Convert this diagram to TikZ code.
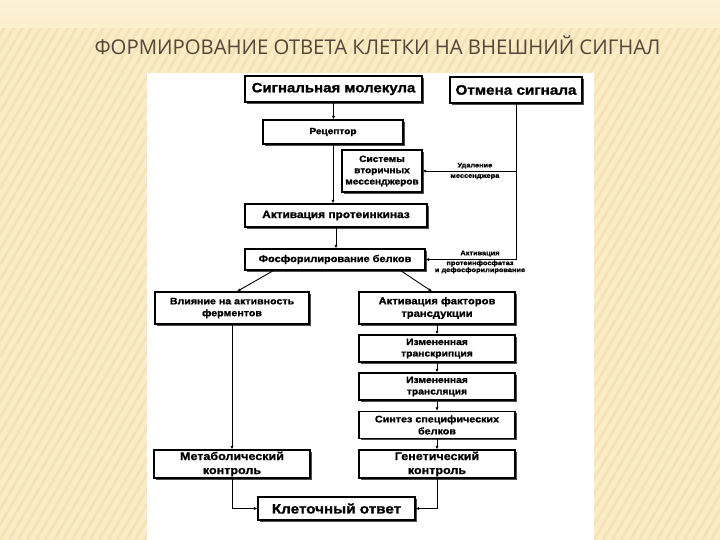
\documentclass[tikz,border=0pt]{standalone}
\usepackage{fontspec}
\setmainfont{Liberation Sans}
\newfontfamily\boxfont[FakeStretch=1.12, BoldFeatures={FakeBold=1.2}]{Liberation Sans}
\newfontfamily\titlefont{Open Sans}
\usepackage{tikz}
\usetikzlibrary{positioning,calc,arrows.meta,shadows}
\definecolor{paper}{RGB}{250,236,198}
\definecolor{paperlight}{RGB}{252,242,212}
\definecolor{stripe}{RGB}{245,226,181}
\definecolor{titlebrown}{RGB}{84,70,56}
\newcommand{\fs}[1]{\fontsize{#1}{1.25\dimexpr#1pt\relax}\selectfont}

\begin{document}
\begin{tikzpicture}[
  x=1pt, y=-1pt,
  box/.style={draw=black, line width=1.1pt, fill=white, align=center, inner sep=1pt,
    font=\boxfont\bfseries,
    drop shadow={shadow xshift=1.8pt, shadow yshift=-1.8pt, fill=black!70, opacity=1}},
  arr/.style={-{Latex[length=3.5pt, width=3pt]}, line width=0.9pt},
  lab/.style={font=\boxfont\bfseries\fontsize{6.6}{6.9}\selectfont, align=center, inner sep=0pt},
]
\useasboundingbox (0,0) rectangle (720,540);
% ---- slide background ----
\fill[paper] (0,0) rectangle (720,540);
\begin{scope}
  \clip (0,26) rectangle (720,540);
  \foreach \i in {-40,...,82}
    \draw[stripe, line width=2.5pt] (\i*9,540) -- ++(318,-540);
\end{scope}
\shade[top color=paperlight, bottom color=paperlight!40!paper] (0,0) rectangle (720,28);
\node[font=\titlefont\fontsize{20.3}{24}\selectfont, text=titlebrown, inner sep=0, anchor=base] (title) at (377.5,55) {ФОРМИРОВАНИЕ ОТВЕТА КЛЕТКИ НА ВНЕШНИЙ СИГНАЛ};
\fill[white] (147,73) rectangle (594,540);
% ---- top row ----
\node[box, font=\boxfont\bfseries\fs{13.4}, minimum width=177pt, minimum height=26pt] (sig) at (333.5,89) {Сигнальная молекула};
\node[box, font=\boxfont\bfseries\fs{13.6}, minimum width=132pt, minimum height=26pt] (cancel) at (516,90) {Отмена сигнала};
\node[box, font=\boxfont\bfseries\fs{9}, minimum width=140pt, minimum height=24pt] (rec) at (333,132) {Рецептор};
\node[box, font=\boxfont\bfseries\fs{9}, minimum width=80pt, minimum height=42pt] (sec) at (382,171) {Системы\\вторичных\\мессенджеров};
\node[box, font=\boxfont\bfseries\fs{10.6}, minimum width=182pt, minimum height=23pt] (kin) at (336,215.5) {Активация протеинкиназ};
\node[box, font=\boxfont\bfseries\fs{9.8}, minimum width=180pt, minimum height=21pt] (phos) at (335,259.5) {Фосфорилирование белков};
% ---- two branches ----
\node[box, font=\boxfont\bfseries\fs{9.5}, minimum width=154pt, minimum height=32pt] (vl) at (232,308) {Влияние на активность\\ферментов};
\node[box, font=\boxfont\bfseries\fs{10}, minimum width=156pt, minimum height=32pt] (act) at (437,308) {Активация факторов\\трансдукции};
\node[box, font=\boxfont\bfseries\fs{9.2}, minimum width=156pt, minimum height=27pt] (trc) at (437,348.5) {Измененная\\транскрипция};
\node[box, font=\boxfont\bfseries\fs{9.2}, minimum width=156pt, minimum height=27pt] (trl) at (437,386.5) {Измененная\\трансляция};
\node[box, font=\boxfont\bfseries\fs{9.6}, minimum width=156pt, minimum height=27pt] (syn) at (437,425) {Синтез специфических\\белков};
\node[box, font=\boxfont\bfseries\fs{11.2}, minimum width=156pt, minimum height=28pt] (met) at (232,464) {Метаболический\\контроль};
\node[box, font=\boxfont\bfseries\fs{11.2}, minimum width=156pt, minimum height=28pt] (gen) at (437,464) {Генетический\\контроль};
\node[box, font=\boxfont\bfseries\fs{13.6}, minimum width=157pt, minimum height=23pt] (cell) at (336.5,508.5) {Клеточный ответ};
% ---- arrows ----
\draw[arr] (sig.south) -- (sig.south |- rec.north);
\draw[arr] (rec.south) -- (rec.south |- kin.north);
\draw[arr] (kin.south) -- (kin.south |- phos.north);
\draw[arr] (cancel.south) |- (phos.east);
\draw[arr] (cancel.south |- sec.east) -- (sec.east);
\path (sec.east) -- (cancel.south |- sec.east) node[lab, pos=0.56] {Удаление\\[3.5pt]мессенджера};
\node[lab, anchor=north] at ($(cancel.south |- phos.east)+(-36,-9)$) {Активация\\[3pt]протеинфосфатаз\\и дефосфорилирование};
\draw[arr] ($(phos.south west)+(29,0)$) -- ($(vl.north)+(5,0)$);
\draw[arr] ($(phos.south east)+(-25,0)$) -- ($(act.north)+(-5,0)$);
\draw[arr] (vl.south) -- (met.north);
\foreach \a/\b in {act/trc, trc/trl, trl/syn, syn/gen}
  \draw[arr] (\a.south) -- (\b.north);
\draw[arr] (met.south) |- (cell.west);
\draw[arr] (gen.south) |- (cell.east);
\end{tikzpicture}
\end{document}
